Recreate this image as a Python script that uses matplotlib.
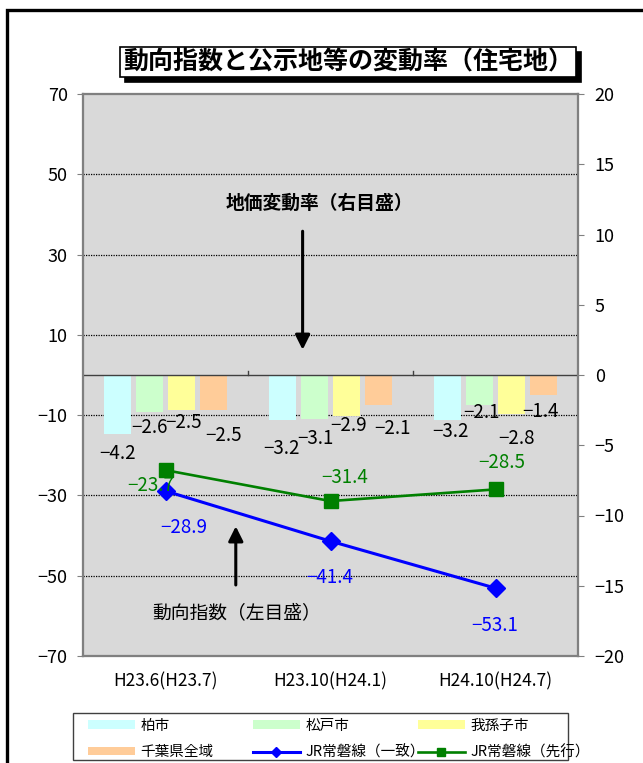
import matplotlib

matplotlib.use("Agg")
import matplotlib.pyplot as plt
import matplotlib.patches as mpatches
import matplotlib.transforms as mtransforms
import numpy as np

plt.rcParams["font.family"] = ["Noto Sans CJK JP", "DejaVu Sans"]

CATEGORIES = ["H23.6(H23.7)", "H23.10(H24.1)", "H24.10(H24.7)"]

# land price change rates (right scale, %)
BAR_NAMES = ["柏市", "松戸市", "我孫子市", "千葉県全域"]
KASHIWA = [-4.2, -3.2, -3.2]
MATSUDO = [-2.6, -3.1, -2.1]
ABIKO = [-2.5, -2.9, -2.8]
CHIBA = [-2.5, -2.1, -1.4]

# trend indices (left scale)
LINE_NAMES = ["JR常磐線（一致）", "JR常磐線（先行）"]
JR_COINCIDENT = [-28.9, -41.4, -53.1]
JR_LEADING = [-23.7, -31.4, -28.5]

BAR_COLORS = ["#CCFFFF", "#CCFFCC", "#FFFF99", "#FFCC99"]
BLUE = "#0000FF"
GREEN = "#008000"
BG = "#D9D9D9"

# label offsets in pixels (dx, dy) for the bar values, per series then category
BAR_LABEL_OFFSETS = [
    [(0, -19), (-1, -29), (3, -12)],
    [(0, -16), (1, -20), (2, -8)],
    [(2, -12), (2, -10), (5, -24)],
    [(10, -25), (14, -24), (-3, -17)],
]
COIN_LABEL_OFFSETS = [(18, -36), (-1, -36), (-1, -37)]
LEAD_LABEL_OFFSETS = [(-15, -15), (14, 24), (6, 27)]
LABEL_SIZE = 13.5


def fmt(v):
    return f"{v:.1f}".replace("-", "\u2212")


fig = plt.figure(figsize=(6.43, 7.63), dpi=100)
W, H = 643, 763

# outer frame
fig.patches.append(mpatches.Rectangle(
    (6.5 / W, -0.2), 1.5, 1 - 9.5 / H + 0.2, transform=fig.transFigure,
    fill=False, edgecolor="black", linewidth=2.4, zorder=0))

ax = fig.add_axes([83 / W, 107 / H, 495 / W, 562 / H])
axb = ax.twinx()
axl = ax.twinx()

x = np.arange(len(CATEGORIES))

# base axes: left scale, background, grid
ax.set_facecolor(BG)
ax.set_xlim(-0.5, len(CATEGORIES) - 0.5)
ax.set_ylim(-70, 70)
ax.set_yticks(np.arange(-70, 71, 20))
ax.set_xticks(x)
ax.set_xticklabels(CATEGORIES, fontsize=12.5)
ax.tick_params(axis="x", length=0, pad=12)
ax.tick_params(axis="y", labelsize=13, length=4, direction="out", pad=7, color="#808080")
for v in range(-50, 51, 20):
    ax.axhline(v, color="black", linestyle=(0, (1, 1)), linewidth=0.9, zorder=1)

# bars on the right scale
axb.set_ylim(-20, 20)
axb.set_yticks(np.arange(-20, 21, 5))
axb.tick_params(axis="y", labelsize=13, length=4, direction="out", pad=8, color="#808080")
width = 0.163
step = 0.195
bar_series = [KASHIWA, MATSUDO, ABIKO, CHIBA]
bar_handles = []
for i, (vals, color) in enumerate(zip(bar_series, BAR_COLORS)):
    pos = x + (i - 1.5) * step
    bars = axb.bar(pos, vals, width=width, color=color, zorder=2)
    bar_handles.append(bars)
    for j, (px, v) in enumerate(zip(pos, vals)):
        dx, dy = BAR_LABEL_OFFSETS[i][j]
        axb.annotate(fmt(v), (px, v), xytext=(dx, dy), textcoords="offset pixels",
                     ha="center", va="center", fontsize=LABEL_SIZE, color="black", zorder=5)
axb.axhline(0, color="#404040", linewidth=1.0, zorder=3)
for b in (0.5, 1.5):
    axb.plot([b, b], [0, 0.3], color="#404040", linewidth=1.0, zorder=3)

# lines on the left scale, top layer
axl.set_ylim(-70, 70)
axl.set_yticks([])
axl.patch.set_visible(False)
coin, = axl.plot(x, JR_COINCIDENT, color=BLUE, linewidth=2.2, marker="D",
                 markersize=9, zorder=4)
lead, = axl.plot(x, JR_LEADING, color=GREEN, linewidth=1.9, marker="s",
                 markersize=10, zorder=4)
for xi, v, (dx, dy) in zip(x, JR_COINCIDENT, COIN_LABEL_OFFSETS):
    axl.annotate(fmt(v), (xi, v), xytext=(dx, dy), textcoords="offset pixels",
                 ha="center", va="center", fontsize=LABEL_SIZE, color=BLUE, zorder=6)
for xi, v, (dx, dy) in zip(x, JR_LEADING, LEAD_LABEL_OFFSETS):
    axl.annotate(fmt(v), (xi, v), xytext=(dx, dy), textcoords="offset pixels",
                 ha="center", va="center", fontsize=LABEL_SIZE, color=GREEN, zorder=6)

# scale notes with arrows
axl.text(0.934, 42.7, "地価変動率（右目盛）", ha="center", va="center",
         fontsize=13.5, fontweight="bold")
axl.annotate("", xy=(0.831, 5.6), xytext=(0.831, 36.5),
             arrowprops=dict(arrowstyle="-|>", color="black", lw=2.2, mutation_scale=22))
axl.text(0.432, -59.3, "動向指数（左目盛）", ha="center", va="center", fontsize=13.5)
axl.annotate("", xy=(0.426, -37.0), xytext=(0.426, -53.0),
             arrowprops=dict(arrowstyle="-|>", color="black", lw=2.2, mutation_scale=22))

for a in (ax, axb, axl):
    for s in a.spines.values():
        s.set_color("#808080")
        s.set_linewidth(1.5)

# title with drop shadow
title = "動向指数と公示地等の変動率（住宅地）"
tx, ty = 348 / W, 1 - 62 / H
shadow_tr = mtransforms.offset_copy(fig.transFigure, fig=fig, x=5, y=-5, units="dots")
fig.text(tx, ty, title, transform=shadow_tr, ha="center", va="center", fontsize=18,
         fontweight="bold", color="black",
         bbox=dict(boxstyle="square,pad=0.12", fc="black", ec="black", lw=1.2))
fig.text(tx, ty, title, ha="center", va="center", fontsize=18, fontweight="bold",
         color="black", bbox=dict(boxstyle="square,pad=0.12", fc="white", ec="black", lw=1.2))

# legend: one frame, three equal columns of two rows each
fig.patches.append(mpatches.Rectangle(
    (73 / W, 1 - 760 / H), 495 / W, 47 / H, transform=fig.transFigure,
    fill=True, facecolor="white", edgecolor="#404040", linewidth=1.0, zorder=1))
columns = [
    ([bar_handles[0], bar_handles[3]], [BAR_NAMES[0], BAR_NAMES[3]]),
    ([bar_handles[1], coin], [BAR_NAMES[1], LINE_NAMES[0]]),
    ([bar_handles[2], lead], [BAR_NAMES[2], LINE_NAMES[1]]),
]
for k, (hs, ls) in enumerate(columns):
    leg = fig.legend(hs, ls, loc="center left",
                     bbox_to_anchor=((88 + 165 * k) / W, 1 - 739 / H),
                     fontsize=10.5, frameon=False, handlelength=3.2, handleheight=0.5,
                     handletextpad=0.4, borderaxespad=0, borderpad=0,
                     labelspacing=0.85, markerscale=0.6)
    leg.set_zorder(2)

fig.savefig("out.png", dpi=100)
